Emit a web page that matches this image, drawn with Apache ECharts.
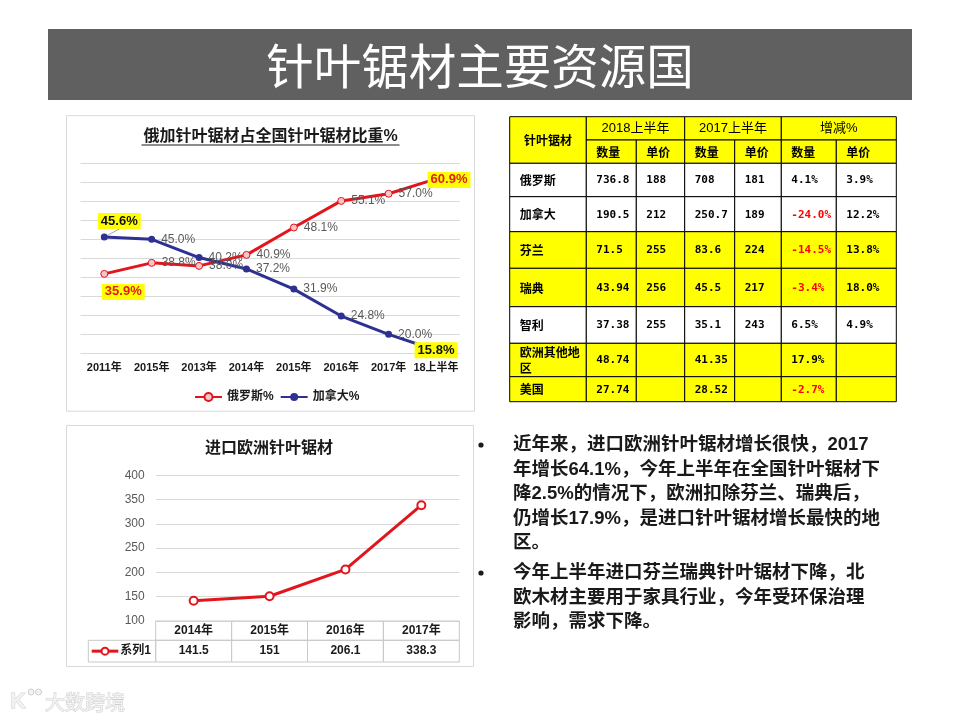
<!DOCTYPE html>
<html><head><meta charset="utf-8">
<script src="https://cdn.jsdelivr.net/npm/echarts@6/dist/echarts.min.js"></script>
<style>html,body{margin:0;padding:0;background:#fff}#c{width:960px;height:720px}</style>
</head><body><div id="c"></div>
<script>
// ---- data ----
const shareYears = ['2011年','2015年','2013年','2014年','2015年','2016年','2017年','18上半年'];
const russiaShare = [35.9, 38.8, 38.0, 40.9, 48.1, 55.1, 57.0, 60.9];
const canadaShare = [45.6, 45.0, 40.2, 37.2, 31.9, 24.8, 20.0, 15.8];
const shareTicks = {min: 15, max: 65, interval: 5};

const euroYears = ['2014年','2015年','2016年','2017年'];
const euroImports = [141.5, 151, 206.1, 338.3];
const euroTicks = {min: 100, max: 400, interval: 50};

const tableCountries = ['俄罗斯','加拿大','芬兰','瑞典','智利','欧洲其他地区','美国'];
const qty2018 = [736.8, 190.5, 71.5, 43.94, 37.38, 48.74, 27.74];
const price2018 = [188, 212, 255, 256, 255, null, null];
const qty2017 = [708, 250.7, 83.6, 45.5, 35.1, 41.35, 28.52];
const price2017 = [181, 189, 224, 217, 243, null, null];
const qtyChange = [4.1, -24.0, -14.5, -3.4, 6.5, 17.9, -2.7];
const priceChange = [3.9, 12.2, 13.8, 18.0, 4.9, null, null];
const tableGroups = ['2018上半年','2017上半年','增减%'];
const tableSub = ['数量','单价'];

const bullet1 = ['近年来，进口欧洲针叶锯材增长很快，2017','年增长64.1%，今年上半年在全国针叶锯材下','降2.5%的情况下，欧洲扣除芬兰、瑞典后，','仍增长17.9%，是进口针叶锯材增长最快的地','区。'];
const bullet2 = ['今年上半年进口芬兰瑞典针叶锯材下降，北','欧木材主要用于家具行业，今年受环保治理','影响，需求下降。'];

// ---- layout / style ----
const RED = '#e3151c', NAVY = '#2e3192', YEL = '#ffff00';
const FF = '"Liberation Sans","Noto Sans CJK SC",sans-serif';
const tblCols = [0, 76.6, 126.6, 175, 225, 271.6, 326.6, 386.6];
const tblRows = [0, 23.3, 46.6, 80, 115, 151.6, 190, 226.6, 260, 285];
const highlightRows = ['芬兰','瑞典','欧洲其他地区','美国'];

// build table cells
const cells = [];
function addCell(c0, c1, r0, r1, text, opt) { cells.push(Object.assign({c0, c1, r0, r1, text}, opt || {})); }
addCell(0, 1, 0, 2, '针叶锯材', {fill: YEL, align: 'center', kind: 'cjk'});
tableGroups.forEach((t, k) => addCell(1 + 2 * k, 3 + 2 * k, 0, 1, t, {fill: YEL, align: 'center', kind: 'head'}));
tableGroups.forEach((t, k) => tableSub.forEach((s, j) => addCell(1 + 2 * k + j, 2 + 2 * k + j, 1, 2, s, {fill: YEL, kind: 'cjk'})));
tableCountries.forEach((name, i) => {
  const fill = highlightRows.includes(name) ? YEL : '#ffffff';
  const r = i + 2;
  const vals = [qty2018[i], price2018[i], qty2017[i], price2017[i], qtyChange[i], priceChange[i]];
  const label = name.length > 5 ? name.slice(0, 5) + '\n' + name.slice(5) : name;
  addCell(0, 1, r, r + 1, label, {fill, kind: 'cjk'});
  vals.forEach((v, j) => {
    const t = v == null ? '' : (j >= 4 ? v.toFixed(1) + '%' : String(v));
    addCell(j + 1, j + 2, r, r + 1, t, {fill, kind: 'num', color: (j >= 4 && v < 0) ? '#ff0000' : '#000'});
  });
});
const cellData = cells.map((c, i) => [(tblCols[c.c0] + tblCols[c.c1]) / 2, (tblRows[c.r0] + tblRows[c.r1]) / 2, i]);
const cellFonts = {
  cjk: 'bold 12px "Noto Sans CJK SC",sans-serif',
  num: 'bold 11px "DejaVu Sans Mono",monospace',
  head: '13px "Liberation Sans","Noto Sans CJK SC",sans-serif'
};

const pctLabel = v => v.toFixed(1) + '%';
function special(v, color, offset) {
  return {value: v, label: {position: 'inside', offset, color, backgroundColor: YEL, padding: [2, 3, 1, 3], fontWeight: 'bold', fontSize: 13}};
}
const russiaData = russiaShare.map((v, i) => i === 0 ? special(v, '#e0201a', [19, 18]) : i === russiaShare.length - 1 ? special(v, '#e0201a', [13, 1]) : v);
const canadaData = canadaShare.map((v, i) => {
  if (i === 0) { const s = special(v, '#111', [0, 0]); s.labelLine = {show: true, lineStyle: {color: '#a6a6a6', width: 1}}; return s; }
  if (i === canadaShare.length - 1) return special(v, '#111', [17, 1]);
  return v;
});

const chart = echarts.init(document.getElementById('c'), null, {renderer: 'canvas'});
const option = {
  backgroundColor: '#fff',
  animation: false,
  textStyle: {fontFamily: FF},
  grid: [
    {left: 80.6, top: 163.3, width: 379.1, height: 190},
    {left: 155.7, top: 475.2, width: 303.6, height: 145.8},
    {left: 509.7, top: 116.7, width: 386.6, height: 285}
  ],
  xAxis: [
    {gridIndex: 0, type: 'category', data: shareYears, boundaryGap: true,
     axisLine: {show: false}, axisTick: {show: false},
     axisLabel: {color: '#1a1a1a', fontWeight: 'bold', fontSize: 11, margin: 9, interval: 0}},
    {gridIndex: 1, type: 'category', data: euroYears, boundaryGap: true,
     axisLine: {show: false}, axisTick: {show: false}, axisLabel: {show: false}},
    {gridIndex: 2, type: 'value', min: 0, max: 386.6, show: false}
  ],
  yAxis: [
    {gridIndex: 0, type: 'value', min: shareTicks.min, max: shareTicks.max, interval: shareTicks.interval,
     axisLabel: {show: false}, axisLine: {show: false}, axisTick: {show: false},
     splitLine: {lineStyle: {color: '#d9d9d9'}}},
    {gridIndex: 1, type: 'value', min: euroTicks.min, max: euroTicks.max, interval: euroTicks.interval,
     axisLabel: {color: '#595959', fontSize: 12, margin: 11}, axisLine: {show: false}, axisTick: {show: false},
     splitLine: {lineStyle: {color: '#d9d9d9'}}},
    {gridIndex: 2, type: 'value', min: 0, max: 285, inverse: true, show: false}
  ],
  legend: {
    data: ['俄罗斯%', '加拿大%'], left: 189, top: 386, itemWidth: 27, itemHeight: 10, itemGap: 6,
    textStyle: {color: '#1a1a1a', fontWeight: 'bold', fontSize: 12, fontFamily: FF}
  },
  series: [
    {name: '俄罗斯%', type: 'line', xAxisIndex: 0, yAxisIndex: 0, data: russiaData,
     symbol: 'circle', symbolSize: 7, z: 3,
     lineStyle: {color: RED, width: 3}, itemStyle: {color: '#f4c6c6', borderColor: RED, borderWidth: 1},
     label: {show: true, position: 'right', distance: 6, color: '#595959', fontSize: 12, formatter: p => pctLabel(p.value)}},
    {name: '加拿大%', type: 'line', xAxisIndex: 0, yAxisIndex: 0, data: canadaData,
     symbol: 'circle', symbolSize: 7, z: 3,
     lineStyle: {color: NAVY, width: 3}, itemStyle: {color: NAVY},
     labelLayout: p => p.dataIndex === 0 ? {dx: 15, dy: -16} : {},
     label: {show: true, position: 'right', distance: 6, color: '#595959', fontSize: 12, formatter: p => pctLabel(p.value)}},
    {name: '系列1', type: 'line', xAxisIndex: 1, yAxisIndex: 1, data: euroImports,
     symbol: 'circle', symbolSize: 8, z: 3,
     lineStyle: {color: RED, width: 3}, itemStyle: {color: '#ffffff', borderColor: RED, borderWidth: 2}},
    {name: 'euroTable', type: 'custom', xAxisIndex: 1, yAxisIndex: 1,
     data: euroImports.map((v, i) => [i, v]), encode: {x: 0, y: 1}, z: 1,
     renderItem: (params, api) => {
       const i = api.value(0), v = api.value(1);
       const base = api.coord([i, euroTicks.min]);
       const bw = api.size([1, 0])[0];
       const x0 = base[0] - bw / 2, y0 = base[1], h1 = 19.3, h2 = 21.7;
       const ln = {stroke: '#c9c9c9', lineWidth: 1, fill: 'none'};
       const font = 'bold 12px ' + FF;
       const ch = [
         {type: 'rect', shape: {x: x0, y: y0, width: bw, height: h1}, style: ln},
         {type: 'rect', shape: {x: x0, y: y0 + h1, width: bw, height: h2}, style: ln},
         {type: 'text', style: {text: euroYears[i], x: base[0], y: y0 + h1 / 2 + 0.5, align: 'center', verticalAlign: 'middle', font, fill: '#1a1a1a'}},
         {type: 'text', style: {text: String(v), x: base[0], y: y0 + h1 + h2 / 2, align: 'center', verticalAlign: 'middle', font, fill: '#1a1a1a'}}
       ];
       if (i === 0) {
         const lx = x0 - 67.4, cy = y0 + h1 + h2 / 2;
         ch.push({type: 'rect', shape: {x: lx, y: y0 + h1, width: 67.4, height: h2}, style: ln});
         ch.push({type: 'line', shape: {x1: lx + 3.4, y1: cy, x2: lx + 30, y2: cy}, style: {stroke: RED, lineWidth: 3}});
         ch.push({type: 'circle', shape: {cx: lx + 16.7, cy, r: 3.5}, style: {fill: '#fff', stroke: RED, lineWidth: 2}});
         ch.push({type: 'text', style: {text: '系列1', x: lx + 32, y: cy, align: 'left', verticalAlign: 'middle', font, fill: '#1a1a1a'}});
       }
       return {type: 'group', children: ch};
     }},
    {name: 'sourceTable', type: 'custom', xAxisIndex: 2, yAxisIndex: 2,
     data: cellData, encode: {x: 0, y: 1},
     renderItem: (params, api) => {
       const cell = cells[api.value(2)];
       const p0 = api.coord([tblCols[cell.c0], tblRows[cell.r0]]);
       const p1 = api.coord([tblCols[cell.c1], tblRows[cell.r1]]);
       const x = p0[0], y = p0[1], w = p1[0] - p0[0], h = p1[1] - p0[1];
       const center = cell.align === 'center';
       return {type: 'group', children: [
         {type: 'rect', shape: {x, y, width: w, height: h}, style: {fill: cell.fill, stroke: '#000', lineWidth: 1}},
         {type: 'text', style: {text: cell.text, x: center ? x + w / 2 : x + 10, y: y + h / 2 + 0.5,
           align: center ? 'center' : 'left', verticalAlign: 'middle', lineHeight: 16,
           font: cellFonts[cell.kind], fill: cell.color || '#000'}}
       ]};
     }}
  ],
  graphic: [
    {type: 'rect', shape: {x: 48, y: 29, width: 864, height: 71}, style: {fill: '#606060'}},
    {type: 'text', x: 480, y: 66, style: {text: '针叶锯材主要资源国', align: 'center', verticalAlign: 'middle', font: '47.5px "Noto Sans CJK SC",sans-serif', fill: '#ffffff'}},
    {type: 'rect', shape: {x: 66.5, y: 115.7, width: 408, height: 295.5}, style: {fill: 'none', stroke: '#d9d9d9', lineWidth: 1}},
    {type: 'rect', shape: {x: 66.5, y: 425.5, width: 407, height: 241}, style: {fill: 'none', stroke: '#d9d9d9', lineWidth: 1}},
    {type: 'text', x: 270.5, y: 136.5, style: {text: '俄加针叶锯材占全国针叶锯材比重%', align: 'center', verticalAlign: 'middle', font: 'bold 16px ' + FF, fill: '#1a1a1a'}},
    {type: 'line', shape: {x1: 141.5, y1: 145, x2: 399.5, y2: 145}, style: {stroke: '#1a1a1a', lineWidth: 1.2}},
    {type: 'text', x: 269, y: 449, style: {text: '进口欧洲针叶锯材', align: 'center', verticalAlign: 'middle', font: 'bold 16px ' + FF, fill: '#1a1a1a'}},
    {type: 'circle', shape: {cx: 481, cy: 445, r: 2.6}, style: {fill: '#1a1a1a'}},
    {type: 'circle', shape: {cx: 481, cy: 573, r: 2.6}, style: {fill: '#1a1a1a'}},
    {type: 'text', x: 513, y: 432.75, style: {text: bullet1.join('\n'), verticalAlign: 'top', lineHeight: 24.5, font: 'bold 18.5px ' + FF, fill: '#1a1a1a'}},
    {type: 'text', x: 513, y: 560.75, style: {text: bullet2.join('\n'), verticalAlign: 'top', lineHeight: 24.5, font: 'bold 18.5px ' + FF, fill: '#1a1a1a'}},
    {type: 'text', x: 10, y: 702, style: {text: 'K', verticalAlign: 'middle', font: 'bold 22px ' + FF, fill: '#f2f2f2', stroke: '#cfcfcf', lineWidth: 1}},
    {type: 'circle', shape: {cx: 31, cy: 692, r: 3}, style: {fill: '#f2f2f2', stroke: '#cfcfcf', lineWidth: 1}},
    {type: 'circle', shape: {cx: 38.5, cy: 692, r: 3}, style: {fill: '#f2f2f2', stroke: '#cfcfcf', lineWidth: 1}},
    {type: 'text', x: 45, y: 702, style: {text: '大数跨境', verticalAlign: 'middle', font: '20px "Noto Sans CJK SC",sans-serif', fill: '#f2f2f2', stroke: '#cfcfcf', lineWidth: 1}}
  ]
};
chart.setOption(option);
</script>
</body></html>
